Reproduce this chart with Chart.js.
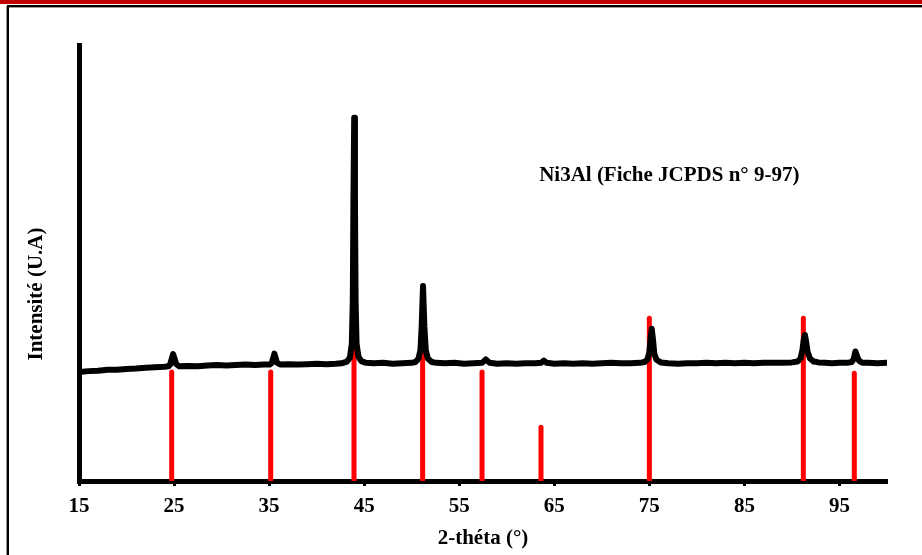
<!DOCTYPE html>
<html lang="fr">
<head>
<meta charset="utf-8">
<title>DRX Ni3Al</title>
<script src="https://cdn.jsdelivr.net/npm/chart.js@4.4.1/dist/chart.umd.min.js"></script>
<style>
  html, body { margin: 0; padding: 0; background: #fff; }
  #wrap { position: relative; width: 922px; height: 555px; overflow: hidden; }
  /* slide frame: red band on top, black/grey rules */
  .band   { position: absolute; left: 0; top: 0; width: 922px; height: 4px; background: #c00000; }
  .ruleT  { position: absolute; left: 7px; top: 5px; right: 0; height: 2px; background: #000; }
  .shadeT { position: absolute; left: 9px; top: 7px; right: 0; height: 1px; background: #9a9a9a; }
  .ruleL  { position: absolute; left: 7px; top: 5px; bottom: 0; width: 2px; background: #000; }
  .shadeL { position: absolute; left: 6px; top: 6px; bottom: 0; width: 1px; background: #9a9a9a; }
  canvas { position: absolute; left: 0; top: 0; }
</style>
</head>
<body>
<div id="wrap">
  <div class="band"></div>
  <div class="ruleT"></div>
  <div class="shadeT"></div>
  <div class="ruleL"></div>
  <div class="shadeL"></div>
  <canvas id="xrd" width="922" height="555"></canvas>
</div>
<script>
// ── Data ──────────────────────────────────────────────────
// measured scan: 2-theta (deg) / intensity (a.u.)
const scanAngle = [
  15, 16, 17, 18, 19, 20, 21, 22, 23, 24,
  24.4, 24.58, 24.74, 24.9, 25.06, 25.22, 25.55,
  26.5, 27.5, 28.5, 29.5, 30.5, 31.5, 32.5, 33.5, 34.5,
  35.05, 35.28, 35.41, 35.55, 35.69, 35.84, 36.2,
  37, 38, 39, 40, 41, 42, 42.6,
  43.2, 43.5, 43.7, 43.8, 43.87, 43.95, 44.03, 44.1, 44.2, 44.4, 44.7, 45.2,
  46, 47, 48, 49, 50,
  50.4, 50.7, 50.92, 51.05, 51.19, 51.33, 51.48, 51.7, 52.1, 52.6,
  53.5, 54.5, 55.5, 56.5, 57.4, 57.8, 58.2,
  59, 60, 61, 62, 63, 63.6, 63.9, 64.2,
  65, 66, 67, 68, 69, 70, 71, 72, 73, 74,
  74.5, 74.8, 75.0, 75.13, 75.25, 75.38, 75.52, 75.75, 76.2,
  77, 78, 79, 80, 81, 82, 83, 84, 85, 86, 87, 88, 89, 90,
  90.6, 90.9, 91.1, 91.25, 91.37, 91.5, 91.65, 91.9, 92.3, 92.8,
  93.5, 94.2, 95, 95.8,
  96.3, 96.5, 96.68, 96.85, 97.05, 97.4,
  98, 99, 100
];
const scanIntensity = [
  250, 252, 253, 255, 255, 257, 258, 260, 261, 262,
  263, 267, 279, 291, 280, 268, 263,
  264, 263, 265, 266, 265, 266, 267, 266, 267,
  267, 271, 281, 292, 282, 271, 267,
  268, 267, 268, 269, 268, 269, 270,
  274, 283, 315, 410, 640, 833, 640, 410, 315, 285, 275, 271,
  270, 271, 269, 270, 271,
  273, 280, 300, 355, 447, 355, 300, 281, 273, 271,
  270, 271, 269, 270, 271, 279, 271,
  269, 270, 269, 270, 270, 271, 276, 271,
  269, 270, 269, 270, 269, 270, 271, 270, 270, 271,
  273, 279, 295, 325, 349, 325, 292, 278, 272,
  270, 269, 270, 270, 271, 270, 271, 270, 271, 270, 271, 271, 271, 272,
  274, 281, 300, 325, 335, 318, 296, 281, 274, 272,
  271, 270, 271, 271,
  273, 280, 297, 286, 276, 271,
  271, 270, 271
];

// reference pattern Ni3Al, JCPDS 9-97: positions / relative heights
const refAngle = [24.75, 35.17, 43.93, 51.15, 57.4, 63.6, 75.0, 91.2, 96.56];
const refIntensity = [250, 250, 340, 330, 250, 123, 373, 373, 247];

// axis ticks
const xTickValues = [15, 25, 35, 45, 55, 65, 75, 85, 95];

const xTitle = "2-théta (°)";
const yTitle = "Intensité (U.A)";
const noteText = "Ni3Al (Fiche JCPDS n° 9-97)";

// ── Styling ───────────────────────────────────────────────
const FONT = '"Liberation Serif", "Times New Roman", serif';

// ── Datasets ──────────────────────────────────────────────
const scanData = scanAngle.map((a, i) => ({ x: a, y: scanIntensity[i] }));

const refDatasets = refAngle.map((a, i) => ({
  label: "ref " + a,
  data: [{ x: a, y: 0 }, { x: a, y: refIntensity[i] }],
  borderColor: "#ff0000",
  borderWidth: 5,
  borderCapStyle: "round",
  pointRadius: 0,
  order: 2,
}));

// axis titles / annotation drawn as text on the canvas
const textPlugin = {
  id: "xrdText",
  afterDraw(chart) {
    const { ctx, chartArea, scales } = chart;
    ctx.save();
    ctx.fillStyle = "#000";
    ctx.font = `bold 21px ${FONT}`;
    ctx.textAlign = "center";
    ctx.textBaseline = "middle";

    // y title, a bit below the middle of the axis as in the source
    ctx.translate(37, (chartArea.top + chartArea.bottom) / 2 + 31);
    ctx.rotate(-Math.PI / 2);
    ctx.fillText(yTitle, 0, 0);
    ctx.restore();

    ctx.save();
    ctx.fillStyle = "#000";
    ctx.font = `bold 21px ${FONT}`;
    ctx.textAlign = "center";
    ctx.textBaseline = "middle";
    ctx.fillText(noteText, scales.x.getPixelForValue(77.1), scales.y.getPixelForValue(700));
    ctx.restore();
  },
};

new Chart(document.getElementById("xrd"), {
  type: "line",
  data: {
    datasets: [
      {
        label: "Ni3Al",
        data: scanData,
        borderColor: "#000",
        borderWidth: 6,
        borderJoinStyle: "round",
        borderCapStyle: "round",
        pointRadius: 0,
        tension: 0,
        order: 1,
      },
      ...refDatasets,
    ],
  },
  options: {
    responsive: false,
    animation: false,
    layout: { padding: { left: 79, right: 35, top: 45, bottom: 0 } },
    plugins: {
      legend: { display: false },
      tooltip: { enabled: false },
    },
    scales: {
      x: {
        type: "linear",
        min: 15,
        max: 100,
        afterBuildTicks: (axis) => {
          axis.ticks = xTickValues.map((v) => ({ value: v }));
        },
        afterFit: (axis) => { axis.height = 74; },
        border: { display: true, color: "#000", width: 5 },
        grid: {
          display: true,
          drawOnChartArea: false,
          drawTicks: true,
          tickLength: 5,
          tickWidth: 3,
          tickColor: "#000",
        },
        ticks: {
          color: "#000",
          font: { family: FONT, size: 21, weight: "bold" },
          padding: 8,
          maxRotation: 0,
          autoSkip: false,
        },
        title: {
          display: true,
          text: xTitle,
          color: "#000",
          font: { family: FONT, size: 21, weight: "bold" },
          padding: { top: 0, bottom: 4 },
        },
      },
      y: {
        type: "linear",
        min: 0,
        max: 1000,
        afterFit: (axis) => { axis.width = 0; },
        border: { display: true, color: "#000", width: 5 },
        grid: { display: false },
        ticks: { display: false },
      },
    },
  },
  plugins: [textPlugin],
});
</script>
</body>
</html>
